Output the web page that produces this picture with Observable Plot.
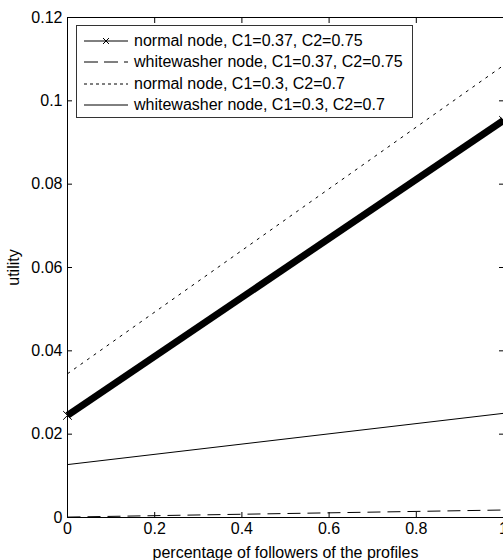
<!DOCTYPE html>
<html>
<head>
<meta charset="utf-8">
<script src="https://cdn.jsdelivr.net/npm/d3@7"></script>
<script src="https://cdn.jsdelivr.net/npm/@observablehq/plot@0.6"></script>
<style>
  html, body { margin: 0; padding: 0; background: #fff; overflow: hidden; }
  #wrap { position: relative; width: 503px; height: 560px; font-family: "Liberation Sans", Arial, sans-serif; }
  #legend { position: absolute; left: 76px; top: 25px; width: 337px; height: 93px; border: 1px solid #333; background: #fff; box-sizing: border-box; padding-top: 4px; }
  .row { display: flex; align-items: center; height: 21.5px; font-size: 16px; color: #000; }
  .row svg { margin-left: 7px; margin-right: 6px; flex: none; }
</style>
</head>
<body>
<div id="wrap"><div id="chart"></div><div id="legend"></div></div>
<script>
const xValues = [0, 1];
const seriesNames = [
  "normal node, C1=0.37, C2=0.75",
  "whitewasher node, C1=0.37, C2=0.75",
  "normal node, C1=0.3, C2=0.7",
  "whitewasher node, C1=0.3, C2=0.7"
];
const normal037 = [0.0245, 0.0953];
const whitewasher037 = [0.0001, 0.0018];
const normal030 = [0.0345, 0.1085];
const whitewasher030 = [0.0127, 0.0250];
const xTicks = [0, 0.2, 0.4, 0.6, 0.8, 1];
const yTicks = [0, 0.02, 0.04, 0.06, 0.08, 0.1, 0.12];

const seriesValues = [normal037, whitewasher037, normal030, whitewasher030];
const styles = [
  {strokeWidth: 7, dash: null},
  {strokeWidth: 1, dash: "13,7"},
  {strokeWidth: 1, dash: "3,5"},
  {strokeWidth: 1, dash: null}
];
const table = seriesNames.map((name, i) => xValues.map((x, j) => ({series: name, x, y: seriesValues[i][j]})));

const fmt = d => String(+d.toFixed(2));

const marks = [
  Plot.ruleY([0], {stroke: "#000"}),
  Plot.ruleX([0], {stroke: "#000"}),
  Plot.frame({stroke: "#000"}),
  Plot.axisX({anchor: "bottom", ticks: xTicks, tickSize: -5, tickPadding: 10, tickFormat: fmt, fontSize: 16,
    label: "percentage of followers of the profiles", labelAnchor: "center", labelOffset: 40, labelArrow: "none"}),
  Plot.axisX({anchor: "top", ticks: xTicks, tickSize: -5, tickFormat: () => "", label: null}),
  Plot.axisY({anchor: "left", ticks: yTicks, tickSize: -5, tickPadding: 10, tickFormat: fmt, fontSize: 16,
    label: "utility", labelAnchor: "center", labelOffset: 60, labelArrow: "none"}),
  Plot.axisY({anchor: "right", ticks: yTicks, tickSize: -5, tickFormat: () => "", label: null})
];
table.forEach((rows, i) => {
  marks.push(Plot.line(rows, {x: "x", y: "y", stroke: "#000", strokeWidth: styles[i].strokeWidth,
    strokeDasharray: styles[i].dash, strokeLinecap: "butt"}));
});
marks.push(Plot.dot(table[0], {x: "x", y: "y", symbol: "times", r: 4, stroke: "#000", strokeWidth: 1}));

const chart = Plot.plot({
  width: 503,
  height: 560,
  marginLeft: 67,
  marginRight: 0,
  marginTop: 17,
  marginBottom: 43,
  style: {fontFamily: "'Liberation Sans', Arial, sans-serif", fontSize: "16px", color: "#000", background: "#fff"},
  x: {domain: [0, 1]},
  y: {domain: [0, 0.12]},
  marks
});
document.getElementById("chart").appendChild(chart);

const legend = document.getElementById("legend");
seriesNames.forEach((name, i) => {
  const row = document.createElement("div");
  row.className = "row";
  const s = styles[i];
  let svg = `<svg width="44" height="10"><line x1="0" y1="5" x2="44" y2="5" stroke="#000" stroke-width="1" ${s.dash ? `stroke-dasharray="${i === 1 ? '14,6' : '3,3'}"` : ""}/>`;
  if (i === 0) svg += `<path d="M19,2L25,8M25,2L19,8" stroke="#000" stroke-width="1"/>`;
  svg += `</svg>`;
  row.innerHTML = svg + `<span>${name}</span>`;
  legend.appendChild(row);
});
</script>
</body>
</html>
